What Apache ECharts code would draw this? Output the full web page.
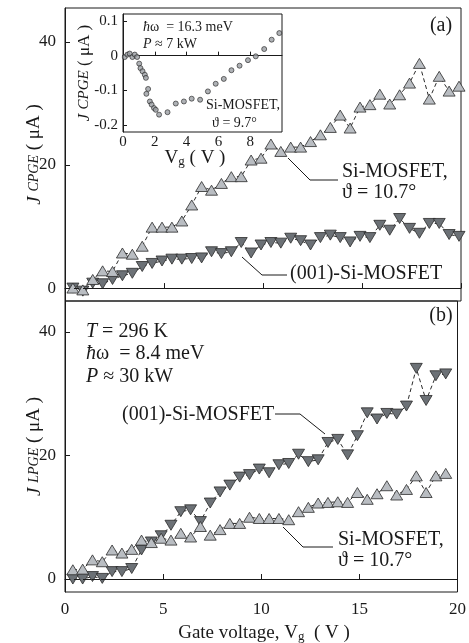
<!DOCTYPE html>
<html>
<head>
<meta charset="utf-8">
<title>CPGE / LPGE vs gate voltage</title>
<script src="https://cdn.jsdelivr.net/npm/echarts@6/dist/echarts.min.js"></script>
<style>
  html, body { margin: 0; padding: 0; background: #fff; }
  #main { width: 469px; height: 643px; }
</style>
</head>
<body>
<div id="main"></div>
<script>
// gate voltage (V) for the main panels
var vg = [0.4, 0.9, 1.4, 1.9, 2.4, 2.9, 3.4, 3.9, 4.4, 4.9,
  5.4, 5.9, 6.4, 6.9, 7.4, 7.9, 8.4, 8.9, 9.4, 9.9,
  10.4, 10.9, 11.4, 11.9, 12.4, 12.9, 13.4, 13.9, 14.4, 14.9,
  15.4, 15.9, 16.4, 16.9, 17.4, 17.9, 18.4, 18.9, 19.4, 19.9];

// panel (a): J CPGE, uA
var cpgeSi = [0, -0.3, 1.4, 2.8, 2.7, 5.7, 5.5, 6.8, 9.9, 9.9,
  9.9, 10.9, 13.5, 16.5, 15.9, 17.0, 18.1, 18.1, 20.8, 21.1,
  23.4, 22.2, 22.9, 22.9, 23.8, 24.9, 26.1, 28.1, 26.0, 29.4,
  29.8, 31.5, 29.9, 31.4, 33.3, 36.5, 30.7, 34.4, 32.0, 32.8];
var cpge001 = [0, -0.5, 0.8, 0.7, 1.4, 2.0, 2.4, 3.5, 4.0, 4.4,
  4.7, 4.7, 4.8, 4.9, 5.9, 5.6, 5.9, 7.4, 5.7, 7.0,
  7.4, 7.3, 8.1, 7.7, 7.0, 8.2, 8.6, 8.2, 7.5, 8.4,
  8.2, 10.2, 9.4, 11.3, 9.7, 8.9, 10.5, 10.5, 8.7, 8.4];

// panel (b): J LPGE, uA (39 points)
var lpge001 = [0, 0, 0.4, 0.1, 1.2, 1.2, 1.7, 4.7, 6.0, 7.0,
  8.7, 10.9, 11.2, 9.3, 12.3, 14.1, 15.2, 16.5, 16.9, 17.8,
  17.2, 18.5, 18.7, 20.2, 19.0, 19.3, 22.1, 22.6, 20.1, 23.2,
  26.9, 25.9, 26.8, 26.7, 28.0, 34.1, 28.9, 32.9, 33.2];
var lpgeSi = [1.5, 1.6, 3.1, 2.8, 4.7, 4.2, 4.8, 6.3, 5.9, 6.6,
  6.3, 7.4, 6.8, 8.5, 7.1, 8.0, 9.0, 9.0, 10.0, 9.8,
  9.8, 9.8, 9.6, 10.9, 11.6, 12.3, 12.4, 12.5, 12.4, 14.0,
  12.9, 13.8, 15.1, 13.6, 14.5, 16.7, 14.0, 16.7, 17.1];

// inset: Si-MOSFET, theta = 9.7 deg
var insetVg = [0.11, 0.28, 0.42, 0.59, 0.74, 0.89, 1.02, 1.1, 1.23, 1.37,
  1.44, 1.47, 1.58, 1.69, 1.8, 1.95, 2.06, 2.27, 2.8, 3.32,
  3.83, 4.32, 4.85, 5.34, 5.83, 6.34, 6.82, 7.33, 7.86, 8.35,
  8.88, 9.35, 9.83];
var insetJ = [-0.004, 0.003, 0.006, -0.004, 0.003, -0.004, -0.023, -0.036, -0.045, -0.055,
  -0.064, -0.11, -0.096, -0.132, -0.141, -0.151, -0.156, -0.170, -0.163, -0.138,
  -0.132, -0.124, -0.127, -0.103, -0.081, -0.067, -0.042, -0.029, -0.013, -0.002,
  0.019, 0.046, 0.065];

var mainTicks = [0, 20, 40];
var xTicks = [0, 5, 10, 15, 20];
var insetXTicks = [0, 2, 4, 6, 8];
var insetYTicks = [-0.2, -0.1, 0, 0.1];

function pairs(xs, ys) {
  var out = [];
  for (var i = 0; i < ys.length; i++) out.push([xs[i], ys[i]]);
  return out;
}

var serif = '"Liberation Serif", "DejaVu Serif", serif';
var ink = '#1a1a1a';
var lightFill = '#b9bdc2';
var darkFill = '#6c7176';

function triSeries(name, data, xi, yi, down) {
  return {
    name: name, type: 'line', xAxisIndex: xi, yAxisIndex: yi,
    data: data,
    symbol: 'triangle',
    symbolSize: [12, 10],
    symbolRotate: down ? 180 : 0,
    showAllSymbol: true,
    itemStyle: { color: down ? darkFill : lightFill, borderColor: '#2a2a2a', borderWidth: 0.8 },
    lineStyle: { color: '#2a2a2a', width: 1, type: [4, 3] },
    animation: false, z: down ? 3 : 4
  };
}

function zeroLine() {
  return {
    silent: true, symbol: 'none', label: { show: false },
    lineStyle: { color: ink, width: 1, type: [5, 4] },
    data: [{ yAxis: 0 }]
  };
}

var sa = triSeries('Si-MOSFET a', pairs(vg, cpgeSi), 0, 0, false);
sa.markLine = zeroLine();
var sb = triSeries('001 a', pairs(vg, cpge001), 0, 0, true);
var sc = triSeries('001 b', pairs(vg, lpge001), 1, 1, true);
sc.markLine = zeroLine();
var sd = triSeries('Si-MOSFET b', pairs(vg, lpgeSi), 1, 1, false);

var tickFont = { fontFamily: serif, fontSize: 17, color: ink };
var insetFont = { fontFamily: serif, fontSize: 15, color: ink };

function yName(sup) {
  return '{j|J} {s|' + sup + '} ( μA )';
}
var yNameRich = {
  j: { fontFamily: serif, fontStyle: 'italic', fontSize: 19, color: ink },
  s: { fontFamily: serif, fontStyle: 'italic', fontSize: 14, color: ink }
};

// text annotation anchored at (x, y): align horizontally, centred vertically
function label(x, y, text, size, align) {
  return {
    type: 'text', x: x, y: y, z: 20,
    style: {
      text: text, fill: ink,
      font: size + 'px ' + serif,
      align: align || 'left', verticalAlign: 'middle',
      rich: {
        i: { fontFamily: serif, fontStyle: 'italic', fontSize: size, fill: ink },
        sub: { fontFamily: serif, fontSize: Math.round(size * 0.7), fill: ink, padding: [8, 0, 0, 0] }
      }
    }
  };
}
function leader(points) {
  return {
    type: 'polyline', z: 20,
    shape: { points: points },
    style: { stroke: ink, lineWidth: 1, fill: null }
  };
}

var chart = echarts.init(document.getElementById('main'), null, { renderer: 'canvas' });
chart.setOption({
  backgroundColor: '#fff',
  animation: false,
  grid: [
    { left: 65, top: 8, width: 396, height: 293, show: true, borderColor: ink, borderWidth: 1 },
    { left: 65, top: 301, width: 396, height: 291, show: true, borderColor: ink, borderWidth: 1 },
    { left: 123, top: 14, width: 159, height: 118, show: true, borderColor: ink, borderWidth: 1,
      backgroundColor: '#fff', z: 10 }
  ],
  xAxis: [
    { type: 'value', gridIndex: 0, min: 0, max: 20, interval: 5,
      axisLine: { lineStyle: { color: ink } },
      axisTick: { inside: true, length: 5, lineStyle: { color: ink } },
      axisLabel: { show: false }, splitLine: { show: false } },
    { type: 'value', gridIndex: 1, min: 0, max: 20, interval: 5,
      axisLine: { lineStyle: { color: ink } },
      axisTick: { inside: true, length: 5, lineStyle: { color: ink } },
      axisLabel: Object.assign({ margin: 9, customValues: xTicks }, tickFont),
      splitLine: { show: false } },
    { type: 'value', gridIndex: 2, min: 0, max: 10, z: 11,
      axisLine: { lineStyle: { color: ink } },
      axisTick: { inside: true, length: 4, customValues: insetXTicks, lineStyle: { color: ink } },
      axisLabel: Object.assign({ margin: 3, customValues: insetXTicks }, insetFont),
      splitLine: { show: false } }
  ],
  yAxis: [
    { type: 'value', gridIndex: 0, min: -2.1, max: 45.5,
      axisLine: { lineStyle: { color: ink } },
      axisTick: { inside: true, length: 5, customValues: mainTicks, lineStyle: { color: ink } },
      axisLabel: Object.assign({ margin: 9, customValues: mainTicks }, tickFont),
      splitLine: { show: false },
      name: yName('CPGE'), nameLocation: 'middle', nameRotate: 90, nameGap: 21, nameMoveOverlap: false,
      nameTextStyle: { fontFamily: serif, fontSize: 19, color: ink, rich: yNameRich } },
    { type: 'value', gridIndex: 1, min: -2.1, max: 45.0,
      axisLine: { lineStyle: { color: ink } },
      axisTick: { inside: true, length: 5, customValues: mainTicks, lineStyle: { color: ink } },
      axisLabel: Object.assign({ margin: 9, customValues: mainTicks }, tickFont),
      splitLine: { show: false },
      name: yName('LPGE'), nameLocation: 'middle', nameRotate: 90, nameGap: 21, nameMoveOverlap: false,
      nameTextStyle: { fontFamily: serif, fontSize: 19, color: ink, rich: yNameRich } },
    { type: 'value', gridIndex: 2, min: -0.22, max: 0.12, z: 11,
      axisLine: { lineStyle: { color: ink } },
      axisTick: { inside: true, length: 4, customValues: insetYTicks, lineStyle: { color: ink } },
      axisLabel: Object.assign({ margin: 5, customValues: insetYTicks }, insetFont),
      splitLine: { show: false },
      name: '{j|J} {s|CPGE} ( μA )', nameLocation: 'middle', nameRotate: 90, nameGap: 30,
      nameMoveOverlap: false,
      nameTextStyle: { fontFamily: serif, fontSize: 17, color: ink, rich: {
        j: { fontFamily: serif, fontStyle: 'italic', fontSize: 17, color: ink },
        s: { fontFamily: serif, fontStyle: 'italic', fontSize: 15, color: ink } } } }
  ],
  series: [
    sa, sb, sc, sd,
    { name: 'inset', type: 'scatter', xAxisIndex: 2, yAxisIndex: 2, z: 12,
      data: pairs(insetVg, insetJ),
      symbol: 'circle', symbolSize: 5,
      itemStyle: { color: '#9a9ea2', borderColor: '#222', borderWidth: 0.8 },
      markLine: { silent: true, symbol: 'none', label: { show: false },
        lineStyle: { color: ink, width: 1, type: [2, 1] }, data: [{ yAxis: 0 }] } }
  ],
  graphic: [
    label(441, 26, '(a)', 20, 'center'),
    label(441, 316, '(b)', 20, 'center'),
    label(143, 27, '{i|ħ}ω  = 16.3 meV', 14),
    label(143, 44, '{i|P} ≈ 7 kW', 14),
    label(280, 105, 'Si-MOSFET,', 14, 'right'),
    label(212, 123, 'ϑ = 9.7°', 14),
    label(195, 158, 'V{sub|g} ( V )', 19, 'center'),
    label(342, 172, 'Si-MOSFET,', 20),
    label(342, 193, 'ϑ = 10.7°', 20),
    label(290, 274, '(001)-Si-MOSFET', 20),
    label(86, 332, '{i|T} = 296 K', 20),
    label(86, 354, '{i|ħ}ω  = 8.4 meV', 20),
    label(86, 377, '{i|P} ≈ 30 kW', 20),
    label(122, 415, '(001)-Si-MOSFET', 20),
    label(338, 540, 'Si-MOSFET,', 20),
    label(338, 561, 'ϑ = 10.7°', 20),
    label(264, 633, 'Gate voltage, V{sub|g}  ( V )', 19, 'center'),
    leader([[288, 158], [310, 180], [338, 180]]),
    leader([[242, 257], [262, 275], [287, 275]]),
    leader([[275, 414], [300, 414], [325, 434]]),
    leader([[283, 527], [303, 547], [333, 547]])
  ]
});
</script>
</body>
</html>
